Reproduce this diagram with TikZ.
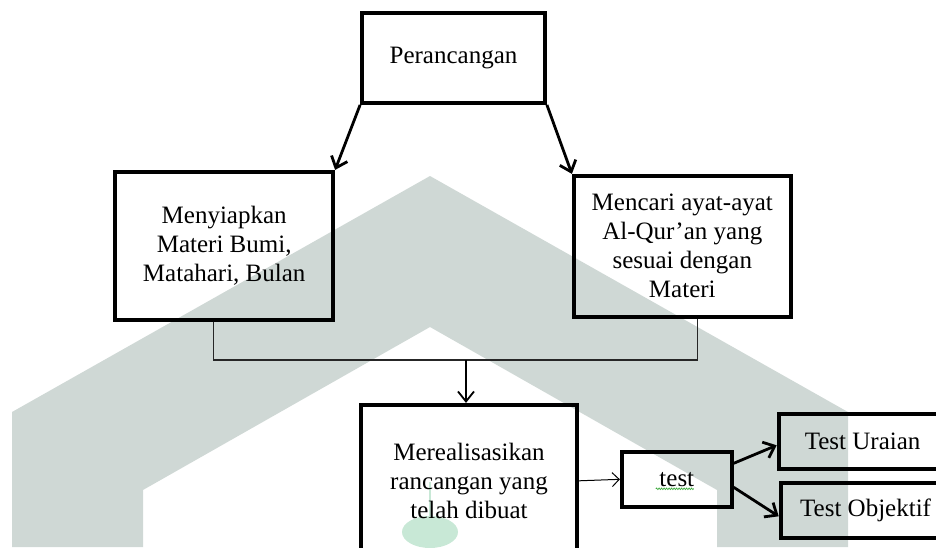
\documentclass[tikz,border=0pt]{standalone}
\usepackage{fontspec}
\setmainfont{Liberation Serif}
\usepackage{xcolor}
\usepackage{tikz}
\usetikzlibrary{arrows.meta,positioning,decorations.pathmorphing}
\definecolor{wmgrey}{RGB}{207,216,213}
\definecolor{wmgreen}{RGB}{200,232,214}
\definecolor{spellgreen}{RGB}{60,170,60}

\begin{document}
\begin{tikzpicture}[x=1pt,y=-1pt, every node/.style={draw,line width=3.8pt,align=center,font=\fontsize{25}{29}\selectfont}, arr/.style={-{Straight Barb[length=10pt,width=17pt]},line width=2.8pt}, downarr/.style={-{Straight Barb[length=10pt,width=16pt]},line width=1.8pt}, thinarr/.style={-{Straight Barb[length=7pt,width=14pt]},line width=1pt}, link/.style={line width=1.1pt,black!85}, spell/.style={spellgreen,line width=0.7pt,decorate,decoration={snake,amplitude=0.8pt,segment length=2.5pt}}]
\useasboundingbox (0,0) rectangle (936,547);
% watermark behind the chart
\fill[wmgrey] (430,176) -- (12,412) -- (12,547) -- (143,547) -- (143,490) -- (430,327) -- (717,490) -- (717,547) -- (848,547) -- (848,412) -- cycle;
\draw[wmgreen,line width=1.5pt] (430,482) -- (430,518); \fill[wmgreen] (430,532) ellipse [x radius=28pt,y radius=16pt];
\node (per) [minimum width=183pt,minimum height=90pt] at (453.5,58) {Perancangan};
\node (bahan) [below left=65pt and 25pt of per,minimum width=218pt,minimum height=148pt] {Menyiapkan\\Materi Bumi,\\Matahari, Bulan}; \node (ayat) [below right=69pt and 25pt of per,minimum width=217pt,minimum height=141pt] {Mencari ayat-ayat\\Al-Qur’an yang\\sesuai dengan\\Materi};
\node (realisasi) [below=298pt of per,xshift=15.5pt,minimum width=216pt,minimum height=152pt] {Merealisasikan\\rancangan yang\\telah dibuat};
\node (test) [right=41pt of realisasi,yshift=1.5pt,minimum width=110pt,minimum height=55pt] {test};
\node (uraian) [right=43pt of test,yshift=38pt,minimum width=168pt,minimum height=55pt] {Test Uraian}; \node (objektif) [right=45pt of test,yshift=-31pt,minimum width=170pt,minimum height=55pt] {Test Objektif};
\coordinate (join) at (466,360);
\draw[arr] (per.south west) -- (bahan.north east); \draw[arr] (per.south east) -- (ayat.north west);
\draw[link] ([xshift=-11pt]bahan.south) |- (join) -| ([xshift=15pt]ayat.south); \draw[downarr] (join) -- (join |- realisasi.north);
\draw[thinarr] (realisasi.east) -- (test.west); \draw[arr] ([yshift=16pt]test.east) -- ([yshift=-4pt]uraian.west); \draw[arr] ([yshift=-8pt]test.east) -- ([yshift=-6pt]objektif.west);
\draw[spell] ([xshift=-21pt,yshift=-9.5pt]test.center) -- ([xshift=17pt,yshift=-9.5pt]test.center);
\end{tikzpicture}
\end{document}
